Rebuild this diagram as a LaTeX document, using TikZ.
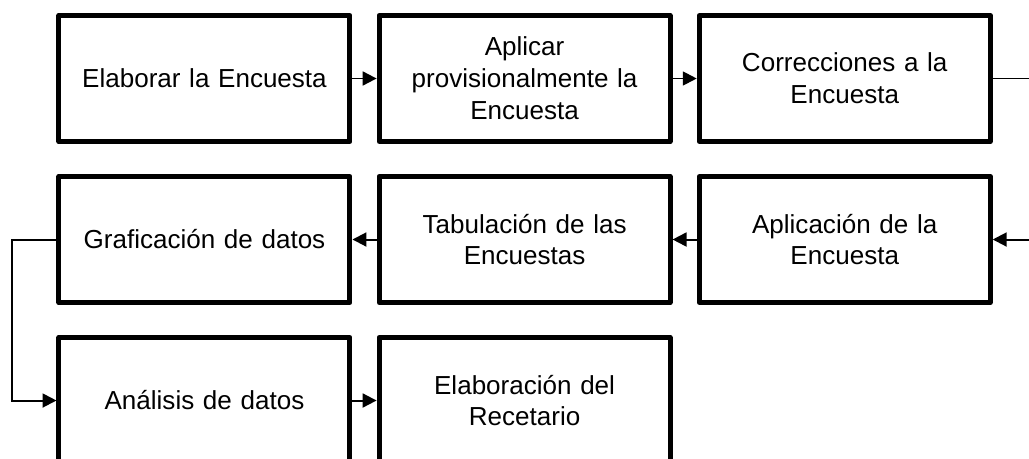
\documentclass[tikz,border=0pt]{standalone}
\usepackage{fontspec}
\setmainfont{Liberation Sans}
\usepackage{tikz}
\usetikzlibrary{shapes,arrows.meta}
\usetikzlibrary{positioning}
\tikzstyle{block} = [rectangle, draw, line width=3.75pt, line join=round,
    text width=7.4cm, align=center, minimum width=7.7cm, minimum height=3.33cm,
    font=\fontsize{19.6}{24}\selectfont]
\tikzstyle{line} = [draw, line width=1.5pt, -{Triangle[length=10.5pt,width=10.5pt]}]

\begin{document}
\begin{tikzpicture}[node distance = 8.47cm, auto]
  \useasboundingbox (-5.41,2.077) rectangle ++(27.226,-12.144);
  % Place nodes
  \node [block] (elab) {Elaborar la Encuesta};
  \node [block, right of=elab] (aplprov) {Aplicar \\ provisionalmente la \\ Encuesta};
  \node [block, right of=aplprov] (correc) {Correcciones a la \\ Encuesta};

  \node [block, below of=correc, node distance=4.26cm] (aplic) {Aplicación de la \\ Encuesta};
  \node [block, left of=aplic] (tabul) {Tabulación de las \\ Encuestas};
  \node [block, left of=tabul] (graf) {Graficación de datos};

  \node [block, below of=graf, node distance=4.26cm] (anal) {Análisis de datos};
  \node [block, right of=anal] (recet) {Elaboración del \\ Recetario};

  % Bends outside the blocks
  \coordinate [right of=correc, node distance=5.2cm] (c1);
  \coordinate [right of=aplic, node distance=5.2cm] (c2);
  \coordinate [left of=graf, node distance=5.09cm] (g1);
  \coordinate [left of=anal, node distance=5.09cm] (g2);

  % Connectors
  \path [line] (elab) -- (aplprov);
  \path [line] (aplprov) -- (correc);
  \path [line] (correc) -- (c1) -- (c2) -- (aplic);
  \path [line] (aplic) -- (tabul);
  \path [line] (tabul) -- (graf);
  \path [line] (graf) -- (g1) -- (g2) -- (anal);
  \path [line] (anal) -- (recet);

\end{tikzpicture}
\end{document}
